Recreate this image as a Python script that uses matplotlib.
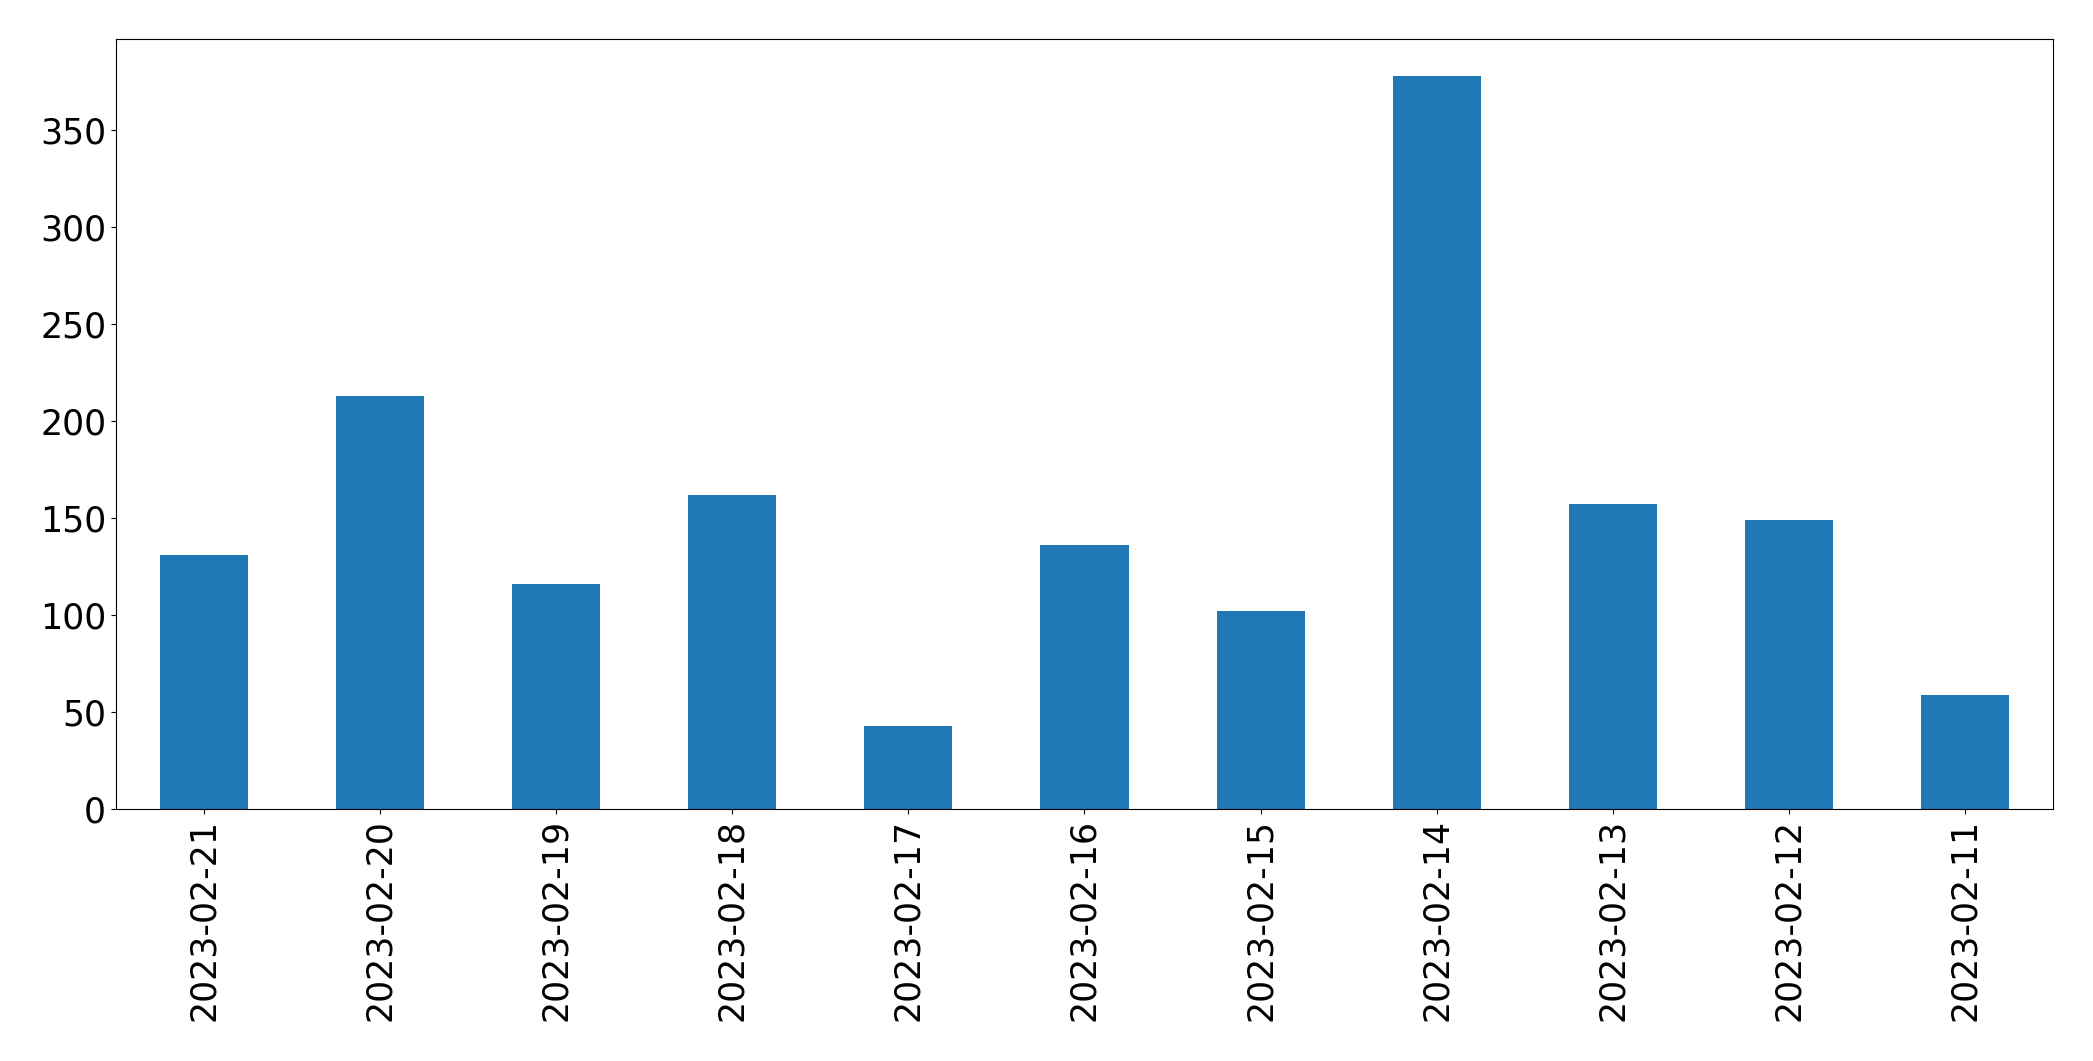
import matplotlib
matplotlib.use("Agg")
import matplotlib.pyplot as plt
import pandas as pd

# daily counts, newest first (as in the reference)
dates = ["2023-02-21", "2023-02-20", "2023-02-19", "2023-02-18", "2023-02-17",
         "2023-02-16", "2023-02-15", "2023-02-14", "2023-02-13", "2023-02-12",
         "2023-02-11"]
counts = [131, 213, 116, 162, 43, 136, 102, 378, 157, 149, 59]

series = pd.Series(counts, index=dates)

fig, ax = plt.subplots(figsize=(20.93, 10.61), dpi=100)
fig.subplots_adjust(left=0.0554, right=0.9809, top=0.9632, bottom=0.2375)

series.plot(kind="bar", ax=ax, color="#1f77b4", width=0.5)
ax.tick_params(axis="both", labelsize=25)
plt.setp(ax.get_xticklabels(), rotation=90)

fig.savefig("out.png", dpi=100)
